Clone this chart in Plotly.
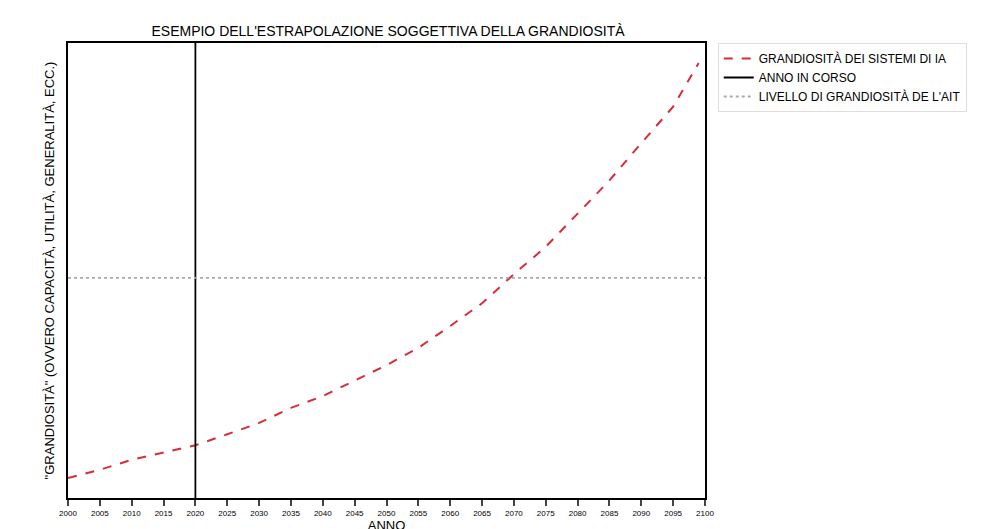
import plotly.graph_objects as go

years = [2000, 2005, 2010, 2015, 2020, 2025, 2030, 2035, 2040, 2045, 2050, 2055, 2060, 2065, 2070, 2075, 2080, 2085, 2090, 2095, 2099]
grand = [4.4, 6.2, 8.4, 10.0, 11.6, 14.0, 16.5, 19.8, 22.4, 25.8, 29.2, 33.0, 37.8, 42.8, 49.2, 55.2, 62.6, 69.8, 78.0, 86.0, 95.6]
current_year = 2020
agi_level = 48.4
tick_vals = list(range(2000, 2101, 5))
tick_text = [str(v) for v in tick_vals]

F = "Liberation Sans Narrow, Liberation Sans, sans-serif"
fig = go.Figure()
fig.add_trace(go.Scatter(x=years, y=grand, mode="lines", name="GRANDIOSITÀ DEI SISTEMI DI IA",
                         line=dict(color="#d62d3a", width=2, dash="dash")))
fig.add_trace(go.Scatter(x=[current_year, current_year], y=[0, 100], mode="lines", name="ANNO IN CORSO",
                         line=dict(color="black", width=1.8)))
fig.add_trace(go.Scatter(x=[2000, 2100], y=[agi_level, agi_level], mode="lines", name="LIVELLO DI GRANDIOSITÀ DE L'AIT",
                         line=dict(color="#aaaaaa", width=1.8, dash="dot")))
fig.update_layout(
    width=1008, height=529, paper_bgcolor="white", plot_bgcolor="white",
    margin=dict(l=60, r=311, t=35, b=39, autoexpand=False),
    font=dict(family=F, size=12, color="black"),
    title=dict(text="ESEMPIO DELL'ESTRAPOLAZIONE SOGGETTIVA DELLA GRANDIOSITÀ", x=0.377, xanchor="center", y=0.965, font=dict(size=14)),
    showlegend=True,
    legend=dict(x=1.02, y=1.0, xanchor="left", yanchor="top", bordercolor="#dddddd", borderwidth=1, font=dict(size=12)),
    xaxis=dict(range=[2000, 2100], tickvals=tick_vals, ticktext=tick_text, tickfont=dict(size=8), automargin=False,
               ticks="outside", ticklen=6, tickwidth=2, showline=True, linewidth=2, linecolor="black",
               mirror=True, showgrid=False, zeroline=False, title=dict(text="ANNO", standoff=2, font=dict(size=13))),
    yaxis=dict(range=[0, 100], showticklabels=False, ticks="", showline=True, linewidth=2, linecolor="black",
               mirror=True, showgrid=False, zeroline=False, automargin=False,
               title=dict(text='"GRANDIOSITÀ" (OVVERO CAPACITÀ, UTILITÀ, GENERALITÀ, ECC.)', standoff=8, font=dict(size=13))),
)
fig.write_html("out.html")
